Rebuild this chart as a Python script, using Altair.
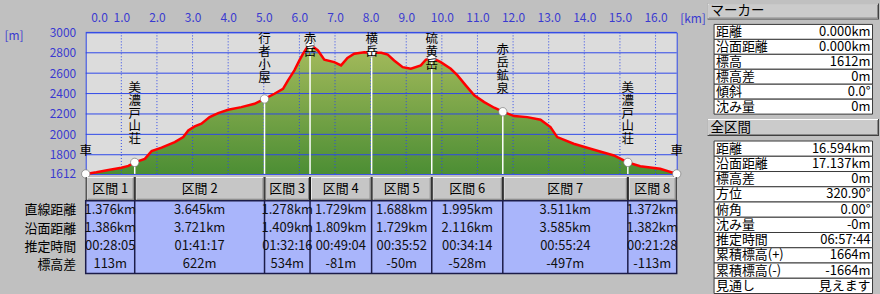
import altair as alt
import pandas as pd

FONT = "Noto Sans CJK JP"
AXIS_BLUE = "#3a3ad0"
GRID_BLUE = "#2f48e8"

# ---------------- elevation profile (distance km, elevation m) ----------------
profile_km = [0.0, 0.3, 0.64, 1.0, 1.2, 1.376, 1.66, 1.85, 2.13, 2.50, 2.74, 2.88, 3.06,
              3.25, 3.48, 3.72, 4.0, 4.37, 4.74, 5.021, 5.30, 5.54, 5.68, 5.86, 6.0,
              6.10, 6.19, 6.299, 6.52, 6.70, 6.98, 7.17, 7.35, 7.54, 7.82, 8.028, 8.30,
              8.48, 8.66, 8.90, 9.13, 9.41, 9.55, 9.716, 9.97, 10.25, 10.44, 10.67,
              10.91, 11.19, 11.47, 11.711, 12.03, 12.40, 12.77, 13.05, 13.24, 13.70,
              14.27, 14.83, 15.222, 15.57, 16.13, 16.594]
profile_m = [1612, 1628, 1650, 1672, 1690, 1725, 1760, 1835, 1869, 1924, 1973, 2038, 2078,
             2104, 2169, 2208, 2241, 2267, 2300, 2347, 2398, 2447, 2529, 2627, 2725,
             2790, 2839, 2881, 2823, 2732, 2708, 2676, 2750, 2790, 2806, 2800, 2800,
             2783, 2725, 2659, 2643, 2676, 2732, 2750, 2708, 2643, 2578, 2480,
             2382, 2316, 2261, 2222, 2179, 2169, 2143, 2071, 1973, 1908,
             1849, 1793, 1725, 1688, 1663, 1612]

# ---------------- waypoints ----------------
waypoint_names = ["車", "美濃戸山荘", "行者小屋", "赤岳", "横岳", "硫黄岳", "赤岳鉱泉", "美濃戸山荘", "車"]
waypoint_km = [0.0, 1.376, 5.021, 6.299, 8.028, 9.716, 11.711, 15.222, 16.594]
waypoint_m = [1612, 1725, 2347, 2881, 2800, 2750, 2222, 1725, 1612]

# ---------------- axes ----------------
tick_km = [0, 1, 2, 3, 4, 5, 6, 7, 8, 9, 10, 11, 12, 13, 14, 15, 16]
grid_km = [1, 2, 3, 4, 5, 6, 7, 8, 9, 10, 11, 12, 13, 14, 15, 16]
tick_m = [1612, 1800, 2000, 2200, 2400, 2600, 2800, 3000]
grid_m = [1800, 2000, 2200, 2400, 2600, 2800, 3000]

# ---------------- section table ----------------
section_names = ["区間 1", "区間 2", "区間 3", "区間 4", "区間 5", "区間 6", "区間 7", "区間 8"]
row_names = ["直線距離", "沿面距離", "推定時間", "標高差"]
straight_dist = ["1.376km", "3.645km", "1.278km", "1.729km", "1.688km", "1.995km", "3.511km", "1.372km"]
surface_dist = ["1.386km", "3.721km", "1.409km", "1.809km", "1.729km", "2.116km", "3.585km", "1.382km"]
est_time = ["00:28:05", "01:41:17", "01:32:16", "00:49:04", "00:35:52", "00:34:14", "00:55:24", "00:21:28"]
elev_diff = ["113m", "622m", "534m", "-81m", "-50m", "-528m", "-497m", "-113m"]

# ---------------- right panels ----------------
marker_labels = ["距離", "沿面距離", "標高", "標高差", "傾斜", "沈み量"]
marker_values = ["0.000km", "0.000km", "1612m", "0m", "0.0°", "0m"]
total_labels = ["距離", "沿面距離", "標高差", "方位", "俯角", "沈み量", "推定時間",
                "累積標高(+)", "累積標高(-)", "見通し"]
total_values = ["16.594km", "17.137km", "0m", "320.90°", "0.00°", "-0m", "06:57:44",
                "1664m", "-1664m", "見えます"]

# =====================================================================
PW, PH = 593, 142
xs = alt.Scale(domain=[0, 16.594], nice=False, zero=False)
ys = alt.Scale(domain=[1612, 3000], nice=False, zero=False)
s01 = alt.Scale(domain=[0, 1], nice=False, zero=False)

x_axis = alt.Axis(orient="top", values=tick_km, format=".1f", grid=False, ticks=False,
                  tickSize=0, domain=False, labelColor=AXIS_BLUE, labelFont=FONT,
                  labelFontSize=12, labelPadding=8, labelFlush=True, labelFlushOffset=-5,
                  title="[km]", titleX=596, titleY=-14, titleAlign="left",
                  titleBaseline="middle", titleAngle=0, titleColor=AXIS_BLUE,
                  titleFont=FONT, titleFontSize=12, titleFontWeight="normal")
y_axis = alt.Axis(values=tick_m, format="d", grid=False, ticks=False, tickSize=0, domain=False,
                  labelColor=AXIS_BLUE, labelFont=FONT, labelFontSize=12, labelPadding=10,
                  labelFlush=False, title="[m]", titleX=-82, titleY=3, titleAlign="left",
                  titleBaseline="middle", titleAngle=0, titleColor=AXIS_BLUE,
                  titleFont=FONT, titleFontSize=12, titleFontWeight="normal")


def X(f):
    return alt.X(f, scale=xs, axis=x_axis)


def Y(f):
    return alt.Y(f, scale=ys, axis=y_axis)


prof = pd.DataFrame({"km": profile_km, "m": profile_m})
wp = pd.DataFrame({"name": waypoint_names, "km": waypoint_km, "m": waypoint_m})
wp["label"] = ["\n".join(n) for n in waypoint_names]
wp["nchar"] = [len(n) for n in waypoint_names]

grad = alt.Gradient(gradient="linear",
                    stops=[alt.GradientStop(color="#a6bb5c", offset=0),
                           alt.GradientStop(color="#4c8e34", offset=1)],
                    x1=1, x2=1, y1=0, y2=1)

area = alt.Chart(prof).mark_area(color=grad).encode(x=X("km:Q"), y=Y("m:Q"), y2=alt.Y2Datum(1612))
hgrid = alt.Chart(pd.DataFrame({"m": grid_m})).mark_rule(color=GRID_BLUE, strokeWidth=1).encode(y=Y("m:Q"))
vgrid = alt.Chart(pd.DataFrame({"km": grid_km})).mark_rule(
    color=GRID_BLUE, strokeWidth=1, strokeDash=[1, 2]).encode(x=X("km:Q"))
poles = alt.Chart(wp).mark_rule(color="white", strokeWidth=1.5).encode(
    x=X("km:Q"), y=Y("m:Q"), y2=alt.Y2Datum(1612))
line = alt.Chart(prof).mark_line(color="#ff0000", strokeWidth=2.5).encode(x=X("km:Q"), y=Y("m:Q"))
pts = alt.Chart(wp).mark_circle(fill="white", stroke="#777777", strokeWidth=0.7, size=70,
                                opacity=1).encode(x=X("km:Q"), y=Y("m:Q"))
labels = alt.Chart(wp).transform_calculate(
    ytop="min(datum.m + (16 + datum.nchar * 13) / 0.1023, 2990)"
).mark_text(font=FONT, fontSize=12.5, lineHeight=13, lineBreak="\n", baseline="top",
            align="center", color="black").encode(x=X("km:Q"), y=Y("ytop:Q"), text="label:N")

profile = alt.layer(area, hgrid, vgrid, poles, line, pts, labels).properties(
    width=PW, height=PH,
    view=alt.ViewBackground(fill="#dcdcdc", stroke=GRID_BLUE, strokeWidth=1))

# ---------------- section header row ----------------
sec = pd.DataFrame({"name": section_names, "start": waypoint_km[:-1], "end": waypoint_km[1:]})
sec["mid"] = (sec["start"] + sec["end"]) / 2

hbase = alt.Chart(sec).encode(x=alt.X("start:Q", scale=xs, axis=None), x2="end:Q",
                              y=alt.YDatum(1, scale=s01, axis=None), y2=alt.Y2Datum(0))
hb_black = hbase.mark_rect(color="#141414")
hb_white = hbase.mark_rect(color="#f4f4f4", xOffset=1, x2Offset=-1, y2Offset=-1)
hb_shadow = hbase.mark_rect(color="#808080", xOffset=2, x2Offset=-1, yOffset=1, y2Offset=-1)
hb_face = hbase.mark_rect(color="#c6c6c6", xOffset=2, x2Offset=-2, yOffset=1, y2Offset=-2)
htext = alt.Chart(sec).mark_text(font=FONT, fontSize=13, color="black").encode(
    x=alt.X("mid:Q", scale=xs, axis=None), y=alt.YDatum(0.5, scale=s01, axis=None), text="name:N")
header = alt.layer(hb_black, hb_white, hb_shadow, hb_face, htext).properties(
    width=PW, height=24, view=alt.ViewBackground(stroke="transparent"))

# ---------------- section body ----------------
body_rows = []
for i in range(len(section_names)):
    for row, vals in zip(row_names, [straight_dist, surface_dist, est_time, elev_diff]):
        body_rows.append({"mid": sec["mid"][i], "row": row, "val": vals[i]})
body_df = pd.DataFrame(body_rows)

yrow = alt.Y("row:N", sort=row_names,
             scale=alt.Scale(domain=row_names, paddingInner=0, paddingOuter=0),
             axis=alt.Axis(title=None, ticks=False, domain=False, labelColor="black",
                           labelFont=FONT, labelFontSize=13, labelPadding=10))
btext = alt.Chart(body_df).mark_text(font=FONT, fontSize=13, color="#101010").encode(
    x=alt.X("mid:Q", scale=xs, axis=None), y=yrow, text="val:N")
bsep = alt.Chart(pd.DataFrame({"km": waypoint_km[1:-1]})).mark_rule(
    color="#1c1c48", strokeWidth=1.5).encode(x=alt.X("km:Q", scale=xs, axis=None))
body = alt.layer(bsep, btext).properties(
    width=PW, height=73,
    view=alt.ViewBackground(fill="#a9b5fb", stroke="#1c1c48", strokeWidth=1.5))


# ---------------- right panels ----------------
def panel_header(title, h):
    d = pd.DataFrame({"t": [title]})
    base = alt.Chart(d).encode(x=alt.XDatum(0, scale=s01, axis=None), x2=alt.X2Datum(1),
                               y=alt.YDatum(1, scale=s01, axis=None), y2=alt.Y2Datum(0))
    l1 = base.mark_rect(color="#404040")
    l2 = base.mark_rect(color="#ffffff", x2Offset=-1, y2Offset=-1)
    l3 = base.mark_rect(color="#8a8a8a", xOffset=1, yOffset=1, x2Offset=-1, y2Offset=-1)
    l4 = base.mark_rect(color="#cbcbcb", xOffset=1, yOffset=1, x2Offset=-2, y2Offset=-2)
    t = alt.Chart(d).mark_text(font=FONT, fontSize=13.5, color="black", align="left", dx=3).encode(
        x=alt.XDatum(0, scale=s01, axis=None), y=alt.YDatum(0.5, scale=s01, axis=None), text="t:N")
    return alt.layer(l1, l2, l3, l4, t).properties(
        width=172, height=h, view=alt.ViewBackground(stroke="transparent"))


def panel_table(labels_, values_, h):
    d = pd.DataFrame({"k": labels_, "v": values_})
    y = alt.Y("k:N", sort=labels_, scale=alt.Scale(domain=labels_, paddingInner=0, paddingOuter=0),
              axis=None)
    cells = alt.Chart(d).mark_rect(fill="white", stroke="#3a3a3a", strokeWidth=1).encode(y=y)
    kt = alt.Chart(d).mark_text(font=FONT, fontSize=13, color="black", align="left", dx=2).encode(
        x=alt.XDatum(0, scale=s01, axis=None), y=y, text="k:N")
    vt = alt.Chart(d).mark_text(font=FONT, fontSize=13, color="black", align="right", dx=-2).encode(
        x=alt.XDatum(1, scale=s01, axis=None), y=y, text="v:N")
    return alt.layer(cells, kt, vt).properties(
        width=159, height=h, view=alt.ViewBackground(stroke="transparent"))


right = alt.vconcat(panel_header("マーカー", 16), panel_table(marker_labels, marker_values, 90),
                    panel_header("全区間", 17), panel_table(total_labels, total_values, 153),
                    spacing=5, center=True, bounds="flush")

spacer = alt.Chart(pd.DataFrame({"a": [0]})).mark_text(text="").encode(
    x=alt.XDatum(0, scale=s01, axis=None)).properties(
    width=PW, height=24, view=alt.ViewBackground(stroke="transparent"))

table = alt.vconcat(header, body, spacing=0, bounds="flush")
main = alt.vconcat(profile, table, spacing=3, bounds="flush")
left = alt.vconcat(spacer, main, spacing=5, bounds="flush")

chart = alt.hconcat(left, right, spacing=0, bounds="full").properties(
    background="#c0c0c0", padding={"left": 3, "top": 2, "right": 0, "bottom": 0}
).configure(font=FONT).configure_view(stroke="transparent")

chart.save("out.html", embed_options={"renderer": "svg", "actions": False})
